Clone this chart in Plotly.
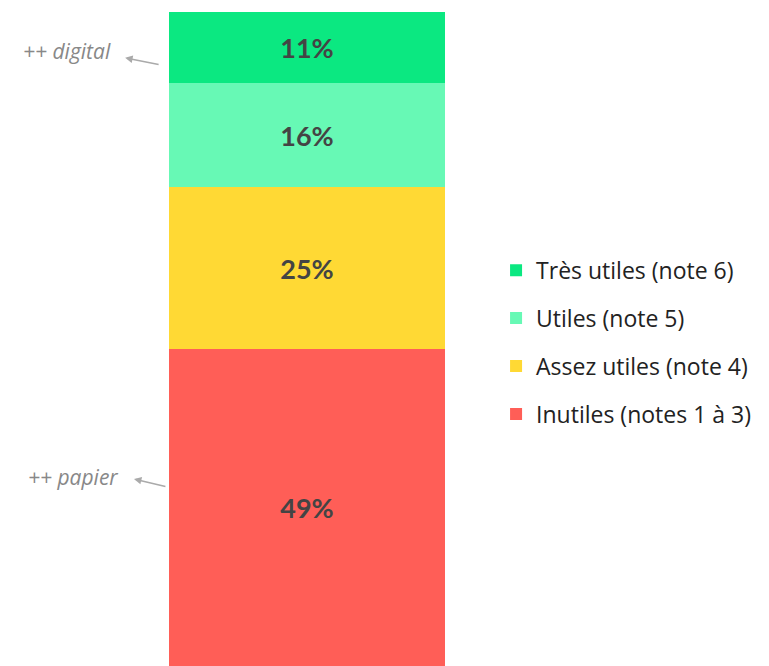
import plotly.graph_objects as go

categories = ["Inutiles (notes 1 à 3)", "Assez utiles (note 4)", "Utiles (note 5)", "Très utiles (note 6)"]
values = [49, 25, 16, 11]
colors = ["#FF5E57", "#FFD934", "#67F9B5", "#0BE881"]
bar_x = ["all"]

fig = go.Figure()
n = len(categories)
for i, (name, v, c) in enumerate(zip(categories, values, colors)):
    fig.add_trace(go.Bar(
        x=bar_x, y=[v], name=name, marker=dict(color=c, line=dict(width=0)),
        text=[f"{v}%"], textposition="inside", insidetextanchor="middle",
        textfont=dict(family="Lato", size=27, color="#444444"),
        texttemplate="<b>%{text}</b>", legendgroup=f"g{i}", legendrank=n - i,
        width=1, hoverinfo="skip",
    ))

fig.update_layout(
    barmode="stack", bargap=0,
    width=769, height=666,
    margin=dict(l=161, r=332, t=4, b=8),
    paper_bgcolor="white", plot_bgcolor="white",
    xaxis=dict(visible=False, range=[-0.5, 0.5]),
    yaxis=dict(visible=False, range=[0, sum(values)]),
    showlegend=True,
    legend=dict(
        x=1.185, y=0.495, xanchor="left", yanchor="middle",
        traceorder="grouped", tracegroupgap=15,
        font=dict(family="Open Sans", size=23, color="#222222"),
        itemclick=False, itemdoubleclick=False,
    ),
    font=dict(family="Open Sans"),
    annotations=[
        dict(text="<i>++ digital</i>", xref="paper", yref="paper", x=-0.203, y=0.940,
             xanchor="right", yanchor="middle", showarrow=False,
             font=dict(family="Open Sans", size=21, color="#888888")),
        dict(text="", xref="paper", yref="paper", x=-0.159, y=0.930,
             showarrow=True, ax=35, ay=7, arrowhead=2, arrowsize=1, arrowwidth=1.5,
             arrowcolor="#aaaaaa"),
        dict(text="<i>++ papier</i>", xref="paper", yref="paper", x=-0.177, y=0.289,
             xanchor="right", yanchor="middle", showarrow=False,
             font=dict(family="Open Sans", size=21, color="#888888")),
        dict(text="", xref="paper", yref="paper", x=-0.127, y=0.286,
             showarrow=True, ax=33, ay=8, arrowhead=2, arrowsize=1, arrowwidth=1.5,
             arrowcolor="#aaaaaa"),
    ],
)

fig.write_html("out.html", config={"displayModeBar": False})
